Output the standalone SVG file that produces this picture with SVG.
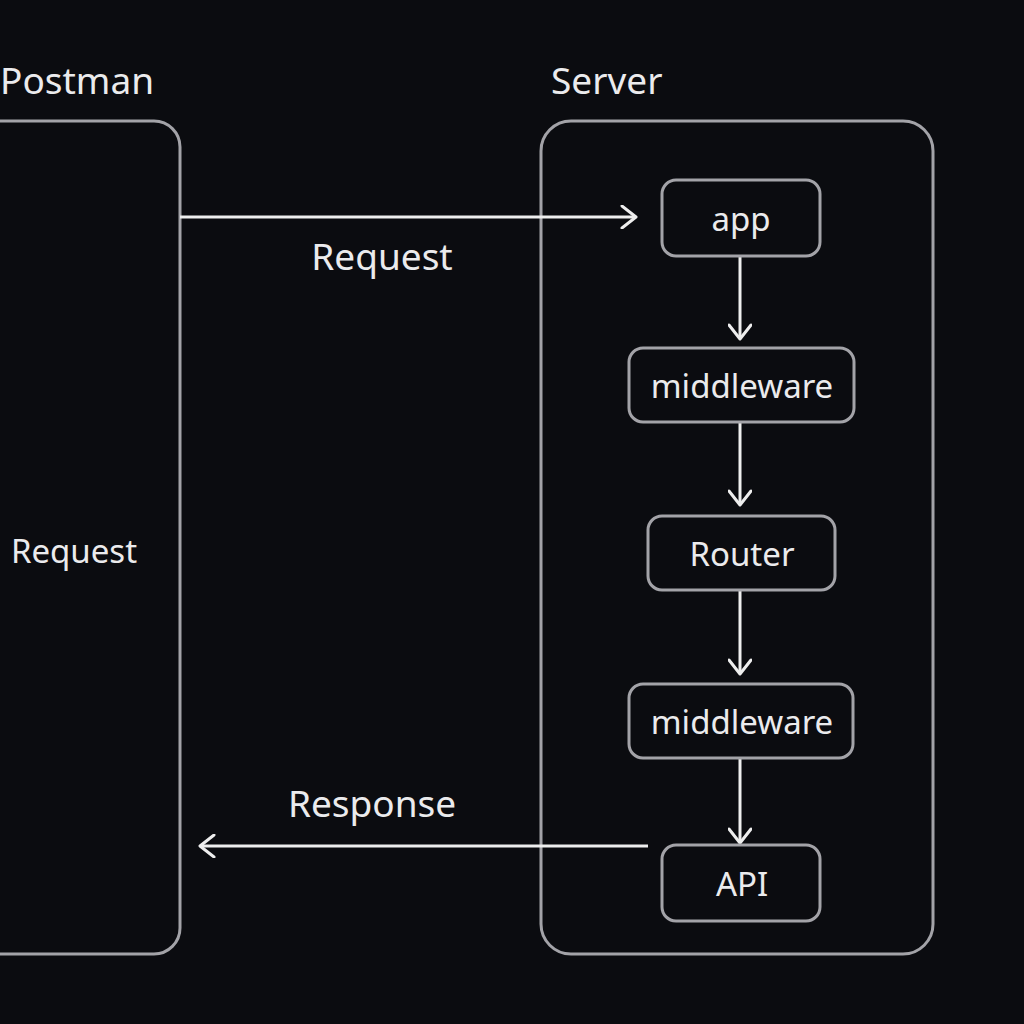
<svg xmlns="http://www.w3.org/2000/svg" width="1024" height="1024" viewBox="0 0 1024 1024">
<defs>
<style>
.bg{fill:#0b0c10}
.box{fill:none;stroke:#a3a3a8;stroke-width:3}
.node{fill:#0b0c10;stroke:#a3a3a8;stroke-width:3}
.t{font-family:"Noto Sans","Open Sans",sans-serif;fill:#ebebed}
.nt{font-size:33px;text-anchor:middle;dominant-baseline:central}
.lbl{font-size:37px;text-anchor:middle}
.title{font-size:37px}
.conn{stroke:#eeeeee;stroke-width:3;fill:none}
</style>
<marker id="arr" viewBox="0 0 24 24" refX="22" refY="12" markerWidth="24" markerHeight="24" markerUnits="userSpaceOnUse" orient="auto">
<path d="M8,1 L22,12 L8,23" fill="none" stroke="#eeeeee" stroke-width="3" stroke-linecap="round" stroke-linejoin="round"/>
</marker>
</defs>
<rect class="bg" x="0" y="0" width="1024" height="1024"/>
<g id="postman">
<rect class="box" x="-30" y="121" width="210" height="833" rx="26"/>
<text class="t title" x="0" y="94">Postman</text>
<text class="t nt" x="74" y="550">Request</text>
</g>
<g id="server">
<rect class="box" x="541" y="121" width="392" height="833" rx="30"/>
<text class="t title" x="551" y="94">Server</text>
</g>
<g id="connectors">
<line class="conn" x1="180" y1="217" x2="636" y2="217" marker-end="url(#arr)"/>
<text class="t lbl" x="382" y="270">Request</text>
<line class="conn" x1="648" y1="846" x2="200" y2="846" marker-end="url(#arr)"/>
<text class="t lbl" x="372" y="817">Response</text>
<line class="conn" x1="740" y1="257" x2="740" y2="339" marker-end="url(#arr)"/>
<line class="conn" x1="740" y1="423" x2="740" y2="505" marker-end="url(#arr)"/>
<line class="conn" x1="740" y1="591" x2="740" y2="674" marker-end="url(#arr)"/>
<line class="conn" x1="740" y1="759" x2="740" y2="843" marker-end="url(#arr)"/>
</g>
<g id="app">
<rect class="node" x="662" y="180" width="158" height="76" rx="14"/>
<text class="t nt" x="741" y="218">app</text>
</g>
<g id="middleware1">
<rect class="node" x="629" y="348" width="225" height="74" rx="14"/>
<text class="t nt" x="742" y="385">middleware</text>
</g>
<g id="router">
<rect class="node" x="648" y="516" width="187" height="74" rx="14"/>
<text class="t nt" x="742" y="553">Router</text>
</g>
<g id="middleware2">
<rect class="node" x="629" y="684" width="224" height="74" rx="14"/>
<text class="t nt" x="742" y="721">middleware</text>
</g>
<g id="api">
<rect class="node" x="662" y="845" width="158" height="76" rx="14"/>
<text class="t nt" x="742" y="883">API</text>
</g>
</svg>
